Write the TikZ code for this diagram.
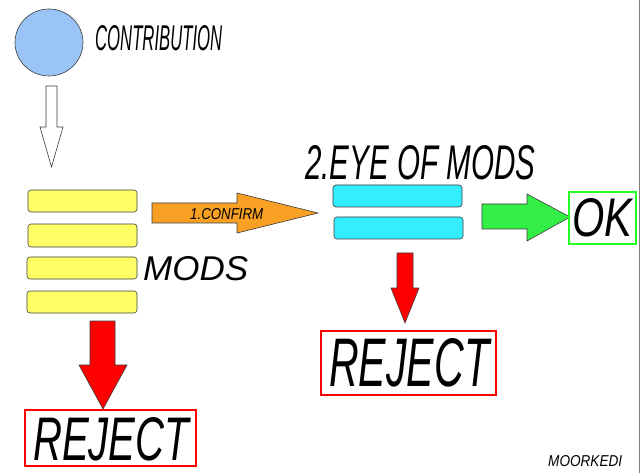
\documentclass[tikz,border=0pt]{standalone}
\usepackage{fontspec}
\setmainfont{Liberation Sans}
\usetikzlibrary{shapes.geometric}
\definecolor{cblue}{RGB}{153,196,245}
\definecolor{cyellow}{RGB}{255,255,102}
\definecolor{corange}{RGB}{247,160,35}
\definecolor{ccyan}{RGB}{51,238,255}
\definecolor{cgreen}{RGB}{51,238,68}
\definecolor{cokgreen}{RGB}{34,255,34}
\definecolor{cred}{RGB}{255,0,0}
\definecolor{cline}{RGB}{60,60,60}
\tikzset{
  shapeline/.style={draw=cline, line width=0.6pt},
  bar/.style={shapeline, rounded corners=3pt},
  txt/.style={inner sep=0pt, anchor=north west, font=\itshape},
  framebox/.style={draw, line width=2pt},
}
\begin{document}
\begin{tikzpicture}[x=1pt,y=-1pt]
\useasboundingbox (0,0) rectangle (640,473);
\fill[white] (0,0) rectangle (640,473);
\draw[gray, line width=1pt] (639,0) -- (639,473);
% circle
\node[shapeline, fill=cblue, ellipse, minimum width=68pt, minimum height=67pt, inner sep=0pt] (contrib) at (49,42.5) {};
\node[txt] (contribtxt) at (95,25) {\resizebox{127pt}{25pt}{\itshape CONTRIBUTION}};
% white arrow
\draw[shapeline, fill=white] (46,86) -- (57,86) -- (57,127) -- (63,127) -- (51.5,167) -- (40,127) -- (46,127) -- cycle;
% yellow bars
\draw[bar, fill=cyellow] (28,190) rectangle (137,212);
\draw[bar, fill=cyellow] (28,224) rectangle (137,247);
\draw[bar, fill=cyellow] (27,257) rectangle (137,279);
\draw[bar, fill=cyellow] (27,291) rectangle (137,313);
\node[txt] (mods) at (143,256) {\resizebox{105pt}{24pt}{\itshape MODS}};
% orange arrow
\draw[shapeline, fill=corange] (152,203) -- (237,203) -- (237,193) -- (318,213) -- (237,233) -- (237,223) -- (152,223) -- cycle;
\node[txt] (confirm) at (190,208) {\resizebox{73pt}{11pt}{\itshape 1.CONFIRM}};
% eye of mods
\node[txt] (eye) at (305,145) {\resizebox{230pt}{34pt}{\itshape 2.EYE OF MODS}};
\draw[bar, fill=ccyan] (333,185) rectangle (462,207);
\draw[bar, fill=ccyan] (334,217) rectangle (463,239);
% green arrow
\draw[shapeline, fill=cgreen] (482,204) -- (527,204) -- (527,194) -- (570,217) -- (527,241) -- (527,229) -- (482,229) -- cycle;
\draw[framebox, draw=cokgreen] (569,192) rectangle (636,244);
\node[txt] (ok) at (572,198) {\resizebox{60pt}{38pt}{\itshape OK}};
% red arrows
\draw[shapeline, fill=cred] (397,253) -- (413,253) -- (413,288) -- (419,288) -- (405,323) -- (391,288) -- (397,288) -- cycle;
\draw[shapeline, fill=cred] (90,321) -- (115,321) -- (115,365) -- (127,365) -- (103,409) -- (79,365) -- (90,365) -- cycle;
% reject boxes
\draw[framebox, draw=cred] (321,331) rectangle (496,395);
\node[txt] (rejmid) at (329,338) {\resizebox{160pt}{48pt}{\itshape REJECT}};
\draw[framebox, draw=cred] (25,410) rectangle (196,466);
\node[txt] (rejleft) at (33,417) {\resizebox{156pt}{43pt}{\itshape REJECT}};
% signature
\node[txt] (sig) at (548,455) {\resizebox{74pt}{11pt}{\itshape MOORKEDI}};
\end{tikzpicture}
\end{document}
